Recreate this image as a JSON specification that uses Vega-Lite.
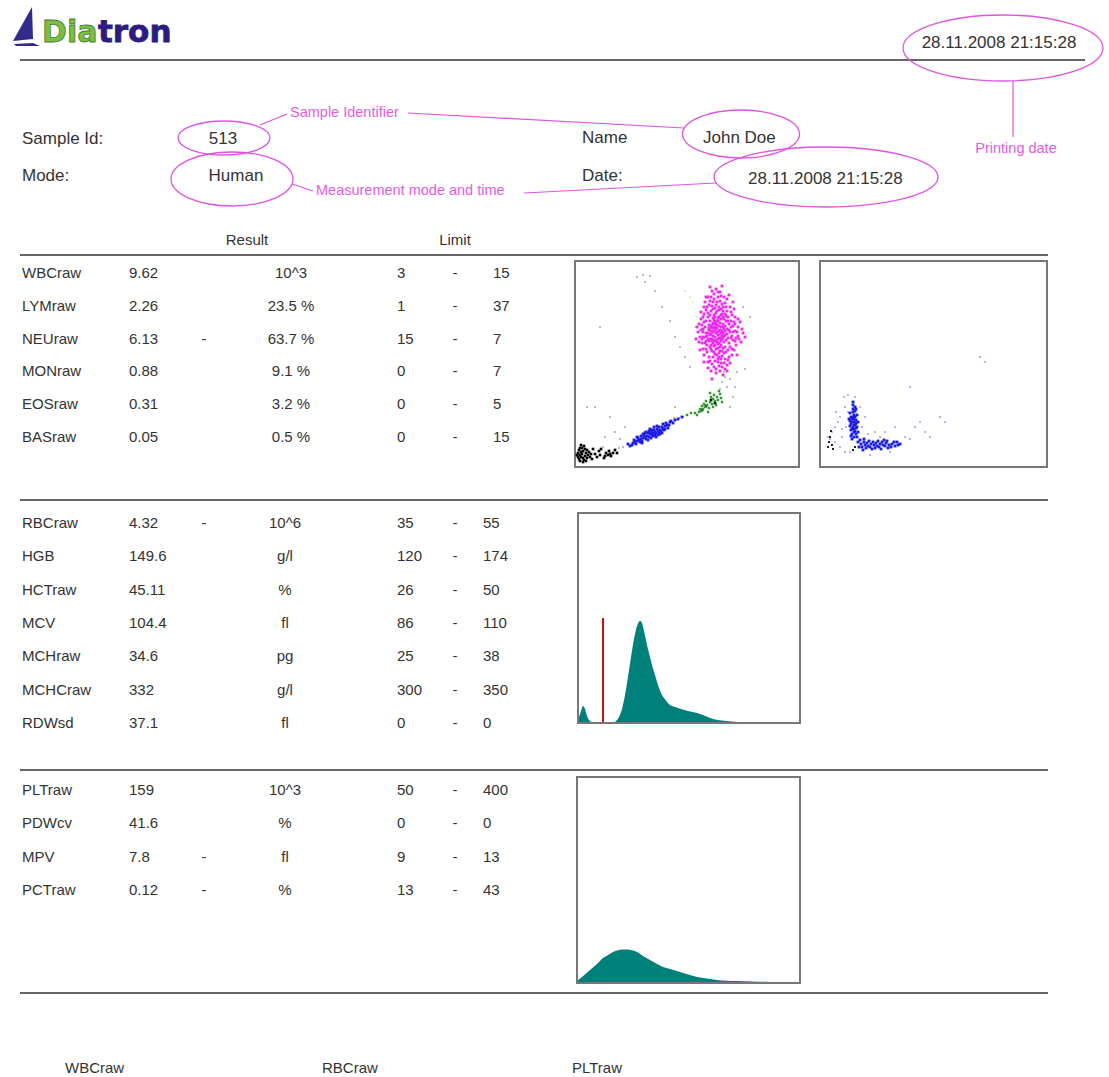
{
  "$schema": "https://vega.github.io/schema/vega-lite/v6.json",
  "width": 1109,
  "height": 1077,
  "padding": 0,
  "autosize": {"type": "fit", "contains": "padding"},
  "background": "white",
  "config": {
    "view": {"stroke": null},
    "axis": {"disable": true},
    "legend": {"disable": true},
    "text": {"font": "Liberation Sans", "fontSize": 15, "color": "#333333", "baseline": "middle"}
  },
  "datasets": {
    "report": [{"sampleId": "513", "mode": "Human", "name": "John Doe", "date": "28.11.2008 21:15:28", "printed": "28.11.2008 21:15:28"}],
    "table": [
      {"line": 1, "param": "WBCraw", "value": "9.62", "flag": "", "unit": "10^3", "low": "3", "high": "15"},
      {"line": 2, "param": "LYMraw", "value": "2.26", "flag": "", "unit": "23.5 %", "low": "1", "high": "37"},
      {"line": 3, "param": "NEUraw", "value": "6.13", "flag": "-", "unit": "63.7 %", "low": "15", "high": "7"},
      {"line": 4, "param": "MONraw", "value": "0.88", "flag": "", "unit": "9.1 %", "low": "0", "high": "7"},
      {"line": 5, "param": "EOSraw", "value": "0.31", "flag": "", "unit": "3.2 %", "low": "0", "high": "5"},
      {"line": 6, "param": "BASraw", "value": "0.05", "flag": "", "unit": "0.5 %", "low": "0", "high": "15"},
      {"line": 7, "param": "RBCraw", "value": "4.32", "flag": "-", "unit": "10^6", "low": "35", "high": "55"},
      {"line": 8, "param": "HGB", "value": "149.6", "flag": "", "unit": "g/l", "low": "120", "high": "174"},
      {"line": 9, "param": "HCTraw", "value": "45.11", "flag": "", "unit": "%", "low": "26", "high": "50"},
      {"line": 10, "param": "MCV", "value": "104.4", "flag": "", "unit": "fl", "low": "86", "high": "110"},
      {"line": 11, "param": "MCHraw", "value": "34.6", "flag": "", "unit": "pg", "low": "25", "high": "38"},
      {"line": 12, "param": "MCHCraw", "value": "332", "flag": "", "unit": "g/l", "low": "300", "high": "350"},
      {"line": 13, "param": "RDWsd", "value": "37.1", "flag": "", "unit": "fl", "low": "0", "high": "0"},
      {"line": 14, "param": "PLTraw", "value": "159", "flag": "", "unit": "10^3", "low": "50", "high": "400"},
      {"line": 15, "param": "PDWcv", "value": "41.6", "flag": "", "unit": "%", "low": "0", "high": "0"},
      {"line": 16, "param": "MPV", "value": "7.8", "flag": "-", "unit": "fl", "low": "9", "high": "13"},
      {"line": 17, "param": "PCTraw", "value": "0.12", "flag": "-", "unit": "%", "low": "13", "high": "43"}
    ],
    "wbc_neu": [
      {"x":140,"y":130},{"x":143,"y":128},{"x":145,"y":133},{"x":138,"y":135},{"x":141,"y":138},{"x":146,"y":140},{"x":137,"y":126},{"x":144,"y":124},{"x":148,"y":129},{"x":135,"y":132},
      {"x":142,"y":142},{"x":139,"y":121},{"x":147,"y":136},{"x":150,"y":132},{"x":136,"y":140},{"x":143,"y":146},{"x":133,"y":128},{"x":149,"y":125},{"x":141,"y":118},{"x":145,"y":120},
      {"x":138,"y":144},{"x":152,"y":138},{"x":134,"y":137},{"x":146,"y":148},{"x":140,"y":150},{"x":148,"y":143},{"x":131,"y":134},{"x":153,"y":129},{"x":137,"y":116},{"x":144,"y":114},
      {"x":150,"y":120},{"x":139,"y":152},{"x":147,"y":153},{"x":132,"y":122},{"x":155,"y":135},{"x":135,"y":146},{"x":142,"y":156},{"x":151,"y":146},{"x":130,"y":140},{"x":154,"y":124},
      {"x":144,"y":110},{"x":138,"y":110},{"x":149,"y":114},{"x":136,"y":156},{"x":146,"y":158},{"x":128,"y":130},{"x":157,"y":131},{"x":133,"y":150},{"x":153,"y":150},{"x":141,"y":162},
      {"x":148,"y":160},{"x":132,"y":115},{"x":156,"y":140},{"x":129,"y":145},{"x":143,"y":105},{"x":150,"y":108},{"x":135,"y":106},{"x":157,"y":118},{"x":127,"y":124},{"x":138,"y":165},
      {"x":145,"y":166},{"x":152,"y":156},{"x":126,"y":137},{"x":159,"y":145},{"x":131,"y":157},{"x":147,"y":100},{"x":139,"y":100},{"x":154,"y":110},{"x":129,"y":112},{"x":158,"y":127},
      {"x":134,"y":162},{"x":150,"y":164},{"x":143,"y":170},{"x":136,"y":170},{"x":155,"y":160},{"x":125,"y":130},{"x":160,"y":136},{"x":128,"y":150},{"x":146,"y":104},{"x":141,"y":94},
      {"x":152,"y":102},{"x":133,"y":99},{"x":161,"y":122},{"x":124,"y":143},{"x":157,"y":152},{"x":149,"y":170},{"x":139,"y":173},{"x":130,"y":165},{"x":163,"y":131},{"x":125,"y":117},
      {"x":137,"y":128},{"x":144,"y":136},{"x":140,"y":140},{"x":147,"y":131},{"x":142,"y":125},{"x":136,"y":133},{"x":145,"y":144},{"x":139,"y":147},{"x":149,"y":138},{"x":134,"y":142},
      {"x":143,"y":119},{"x":151,"y":127},{"x":138,"y":124},{"x":146,"y":126},{"x":141,"y":134},{"x":144,"y":129},{"x":148,"y":134},{"x":137,"y":139},{"x":142,"y":146},{"x":140,"y":113},
      {"x":154,"y":143},{"x":132,"y":131},{"x":147,"y":116},{"x":135,"y":120},{"x":150,"y":153},{"x":156,"y":146},{"x":133,"y":154},{"x":144,"y":160},{"x":128,"y":138},{"x":158,"y":135},
      {"x":131,"y":126},{"x":153,"y":117},{"x":146,"y":108},{"x":138,"y":158},{"x":152,"y":133},{"x":127,"y":128},{"x":161,"y":129},{"x":145,"y":175},{"x":136,"y":96},{"x":155,"y":104},
      {"x":123,"y":135},{"x":163,"y":140},{"x":129,"y":160},{"x":160,"y":150},{"x":150,"y":98},{"x":141,"y":178},{"x":126,"y":148},{"x":166,"y":125},{"x":133,"y":170},{"x":158,"y":165},
      {"x":121,"y":128},{"x":165,"y":145},{"x":148,"y":92},{"x":137,"y":88},{"x":154,"y":172},{"x":129,"y":105},{"x":168,"y":134},{"x":122,"y":140},{"x":162,"y":112},{"x":135,"y":180},
      {"x":147,"y":181},{"x":139,"y":143},{"x":143,"y":132},{"x":146,"y":122},{"x":140,"y":126},{"x":144,"y":150},{"x":136,"y":122},{"x":150,"y":141},{"x":134,"y":126},{"x":148,"y":150},
      {"x":139,"y":136},{"x":142,"y":139},{"x":145,"y":137},{"x":138,"y":131},{"x":141,"y":127},{"x":147,"y":128},{"x":144,"y":141},{"x":137,"y":142},{"x":140,"y":145},{"x":143,"y":149},
      {"x":146,"y":152},{"x":141,"y":154},{"x":138,"y":149},{"x":135,"y":152},{"x":149,"y":148},{"x":151,"y":151},{"x":153,"y":146},{"x":148,"y":156},{"x":144,"y":157},{"x":140,"y":159},
      {"x":137,"y":161},{"x":142,"y":165},{"x":147,"y":163},{"x":151,"y":160},{"x":139,"y":168},{"x":146,"y":171},{"x":135,"y":166},{"x":132,"y":160},{"x":136,"y":118},{"x":139,"y":115},
      {"x":142,"y":112},{"x":145,"y":116},{"x":148,"y":119},{"x":151,"y":115},{"x":147,"y":111},{"x":143,"y":108},{"x":140,"y":106},{"x":137,"y":103},{"x":144,"y":101},{"x":149,"y":104},
      {"x":153,"y":107},{"x":134,"y":110},{"x":131,"y":118},{"x":130,"y":124},{"x":133,"y":134},{"x":130,"y":130},{"x":128,"y":135},{"x":131,"y":146},{"x":129,"y":153},{"x":127,"y":142},
      {"x":154,"y":137},{"x":156,"y":129},{"x":155,"y":120},{"x":158,"y":141},{"x":156,"y":155},{"x":159,"y":158},{"x":160,"y":143},{"x":162,"y":135},{"x":160,"y":126},{"x":159,"y":117},
      {"x":157,"y":112},{"x":164,"y":128},{"x":163,"y":148},{"x":167,"y":138},{"x":170,"y":130},{"x":152,"y":168},{"x":143,"y":175},{"x":137,"y":176},{"x":131,"y":170},{"x":126,"y":155},
      {"x":124,"y":125},{"x":128,"y":118},{"x":133,"y":105},{"x":141,"y":98},{"x":145,"y":96},{"x":152,"y":96},{"x":140,"y":122},{"x":143,"y":123},{"x":138,"y":127},{"x":146,"y":134},
      {"x":149,"y":131},{"x":135,"y":128},{"x":139,"y":139},{"x":142,"y":135},{"x":145,"y":129},{"x":136,"y":136},{"x":148,"y":140},{"x":141,"y":143},{"x":150,"y":136},{"x":134,"y":139}
    ],
    "wbc_lym": [
      {"x":72,"y":31},{"x":75,"y":33},{"x":78,"y":34},{"x":80,"y":35},{"x":83,"y":36},{"x":70,"y":30},{"x":68,"y":29},{"x":66,"y":28},{"x":85,"y":37},{"x":88,"y":38},
      {"x":74,"y":30},{"x":77,"y":32},{"x":81,"y":34},{"x":79,"y":37},{"x":76,"y":35},{"x":73,"y":34},{"x":84,"y":34},{"x":87,"y":40},{"x":90,"y":41},{"x":64,"y":27},
      {"x":62,"y":26},{"x":60,"y":25},{"x":92,"y":42},{"x":71,"y":28},{"x":69,"y":32},{"x":82,"y":38},{"x":86,"y":36},{"x":67,"y":26},{"x":74,"y":36},{"x":78,"y":31},
      {"x":89,"y":37},{"x":63,"y":29},{"x":58,"y":24},{"x":93,"y":39},{"x":80,"y":32},{"x":76,"y":29},{"x":70,"y":34},{"x":84,"y":40},{"x":66,"y":31},{"x":91,"y":44},
      {"x":95,"y":45},{"x":57,"y":22},{"x":61,"y":23},{"x":87,"y":34},{"x":73,"y":27},{"x":79,"y":40},{"x":83,"y":32},{"x":65,"y":25},{"x":94,"y":42},{"x":68,"y":33},
      {"x":81,"y":30},{"x":75,"y":38},{"x":59,"y":27},{"x":88,"y":43},{"x":71,"y":35},{"x":85,"y":33},{"x":77,"y":37},{"x":96,"y":46},{"x":55,"y":21},{"x":62,"y":30},
      {"x":90,"y":38},{"x":67,"y":24},{"x":82,"y":41},{"x":98,"y":44},{"x":53,"y":23},{"x":100,"y":47},{"x":103,"y":48},{"x":107,"y":50}
    ],
    "wbc_mon": [
      {"x":135,"y":65},{"x":132,"y":62},{"x":138,"y":68},{"x":140,"y":66},{"x":130,"y":60},{"x":137,"y":63},{"x":142,"y":70},{"x":128,"y":58},{"x":134,"y":59},{"x":139,"y":72},
      {"x":143,"y":67},{"x":126,"y":56},{"x":131,"y":66},{"x":136,"y":70},{"x":145,"y":73},{"x":124,"y":55},{"x":129,"y":63},{"x":141,"y":62},{"x":133,"y":55},{"x":146,"y":69},
      {"x":122,"y":52},{"x":138,"y":60},{"x":127,"y":61},{"x":144,"y":76},{"x":120,"y":54},{"x":135,"y":74},{"x":147,"y":65},{"x":125,"y":58},{"x":112,"y":52},{"x":116,"y":54}
    ],
    "wbc_deb": [
      {"x":4,"y":8},{"x":6,"y":10},{"x":5,"y":12},{"x":8,"y":9},{"x":7,"y":13},{"x":10,"y":11},{"x":3,"y":14},{"x":9,"y":7},{"x":6,"y":15},{"x":11,"y":14},
      {"x":4,"y":17},{"x":8,"y":16},{"x":12,"y":9},{"x":5,"y":6},{"x":7,"y":19},{"x":13,"y":12},{"x":10,"y":18},{"x":3,"y":10},{"x":14,"y":15},{"x":9,"y":21},
      {"x":6,"y":22},{"x":15,"y":10},{"x":2,"y":12},{"x":11,"y":6},{"x":16,"y":13},{"x":5,"y":19},{"x":12,"y":17},{"x":8,"y":5},{"x":30,"y":11},{"x":33,"y":12},
      {"x":35,"y":13},{"x":31,"y":14},{"x":36,"y":11},{"x":38,"y":14},{"x":29,"y":9},{"x":34,"y":16},{"x":20,"y":13},{"x":24,"y":16},{"x":22,"y":10},{"x":26,"y":18},
      {"x":18,"y":18},{"x":40,"y":17},{"x":42,"y":14},{"x":25,"y":12},{"x":17,"y":8},{"x":136,"y":67},{"x":131,"y":61},{"x":140,"y":64},{"x":127,"y":57}
    ],
    "wbc_oth": [
      {"x":62,"y":190},{"x":68,"y":192},{"x":75,"y":191},{"x":80,"y":176},{"x":87,"y":160},{"x":95,"y":146},{"x":70,"y":185},{"x":100,"y":130},{"x":105,"y":120},{"x":110,"y":110},
      {"x":162,"y":95},{"x":170,"y":98},{"x":115,"y":100},{"x":20,"y":60},{"x":35,"y":50},{"x":50,"y":40},{"x":45,"y":28},{"x":40,"y":35},{"x":160,"y":80},{"x":158,"y":70},
      {"x":100,"y":60},{"x":12,"y":60},{"x":175,"y":150},{"x":25,"y":140},{"x":168,"y":160},{"x":30,"y":30},{"x":155,"y":60},{"x":104,"y":49},{"x":108,"y":50},{"x":99,"y":49},
      {"x":150,"y":90},{"x":147,"y":85},{"x":152,"y":80},{"x":145,"y":78},{"x":155,"y":88},{"x":149,"y":95},{"x":44,"y":19},{"x":48,"y":20},{"x":28,"y":20}
    ],
    "wbc_ylw": [
      {"x":122,"y":150},{"x":125,"y":155},{"x":120,"y":140},{"x":128,"y":160},{"x":118,"y":165},{"x":124,"y":145},{"x":115,"y":170},{"x":110,"y":176}
    ],
    "baso_lym": [
      {"x":33,"y":40},{"x":34,"y":45},{"x":32,"y":38},{"x":35,"y":50},{"x":31,"y":43},{"x":36,"y":47},{"x":33,"y":55},{"x":34,"y":35},{"x":32,"y":48},{"x":35,"y":42},
      {"x":30,"y":46},{"x":37,"y":52},{"x":33,"y":58},{"x":31,"y":37},{"x":36,"y":39},{"x":34,"y":52},{"x":32,"y":33},{"x":35,"y":56},{"x":30,"y":41},{"x":38,"y":45},
      {"x":33,"y":62},{"x":31,"y":50},{"x":36,"y":33},{"x":34,"y":30},{"x":37,"y":40},{"x":29,"y":48},{"x":35,"y":60},{"x":32,"y":28},{"x":38,"y":35},{"x":30,"y":54},
      {"x":36,"y":58},{"x":33,"y":65},{"x":34,"y":42},{"x":31,"y":31},{"x":37,"y":30},{"x":35,"y":36},{"x":32,"y":45},{"x":34,"y":48},{"x":36,"y":44},{"x":33,"y":50},
      {"x":45,"y":22},{"x":48,"y":21},{"x":51,"y":23},{"x":54,"y":22},{"x":57,"y":21},{"x":60,"y":23},{"x":63,"y":22},{"x":66,"y":24},{"x":69,"y":22},{"x":72,"y":23},
      {"x":75,"y":21},{"x":44,"y":25},{"x":47,"y":24},{"x":50,"y":20},{"x":53,"y":25},{"x":56,"y":24},{"x":59,"y":20},{"x":62,"y":25},{"x":65,"y":21},{"x":68,"y":19},
      {"x":42,"y":20},{"x":46,"y":19},{"x":49,"y":26},{"x":52,"y":18},{"x":55,"y":19},{"x":58,"y":26},{"x":61,"y":18},{"x":64,"y":27},{"x":71,"y":20},{"x":74,"y":25},
      {"x":78,"y":22},{"x":41,"y":23},{"x":40,"y":27},{"x":44,"y":28},{"x":38,"y":25},{"x":39,"y":20},{"x":43,"y":17},{"x":67,"y":26},{"x":77,"y":25},{"x":80,"y":23}
    ],
    "baso_light": [
      {"x":15,"y":40},{"x":20,"y":50},{"x":12,"y":35},{"x":25,"y":60},{"x":22,"y":30},{"x":18,"y":45},{"x":10,"y":28},{"x":24,"y":70},{"x":28,"y":72},{"x":40,"y":60},
      {"x":45,"y":50},{"x":55,"y":35},{"x":65,"y":35},{"x":85,"y":30},{"x":90,"y":28},{"x":95,"y":40},{"x":100,"y":45},{"x":20,"y":20},{"x":15,"y":25},{"x":25,"y":15},
      {"x":30,"y":15},{"x":50,"y":12},{"x":70,"y":15},{"x":28,"y":55},{"x":42,"y":40},{"x":48,"y":33},{"x":60,"y":30},{"x":75,"y":40},{"x":105,"y":35},{"x":110,"y":30},
      {"x":26,"y":40},{"x":16,"y":55},{"x":8,"y":30},{"x":22,"y":38},{"x":35,"y":70},{"x":120,"y":50},{"x":125,"y":45},{"x":160,"y":110},{"x":165,"y":105},{"x":90,"y":80}
    ],
    "baso_deb": [
      {"x":9,"y":25},{"x":10,"y":30},{"x":12,"y":22},{"x":11,"y":36},{"x":13,"y":18},{"x":8,"y":20},{"x":35,"y":20},{"x":33,"y":17},{"x":34,"y":38},{"x":36,"y":43}
    ],
    "rbc": [
      {"ch":0,"n":2},{"ch":3,"n":12},{"ch":5,"n":17},{"ch":7,"n":14},{"ch":9,"n":7},{"ch":12,"n":2},{"ch":15,"n":0.5},{"ch":20,"n":0},{"ch":35,"n":0},{"ch":38,"n":2},
      {"ch":41,"n":6},{"ch":44,"n":14},{"ch":47,"n":28},{"ch":50,"n":46},{"ch":53,"n":66},{"ch":56,"n":84},{"ch":59,"n":97},{"ch":62,"n":102},{"ch":64,"n":100},{"ch":66,"n":92},
      {"ch":69,"n":78},{"ch":72,"n":66},{"ch":74,"n":58},{"ch":77,"n":48},{"ch":80,"n":38},{"ch":83,"n":30},{"ch":86,"n":25},{"ch":89,"n":21},{"ch":92,"n":18},{"ch":97,"n":16},
      {"ch":103,"n":14},{"ch":110,"n":12},{"ch":119,"n":10},{"ch":125,"n":8},{"ch":132,"n":5},{"ch":140,"n":3},{"ch":148,"n":2},{"ch":160,"n":1},{"ch":180,"n":0.6},{"ch":200,"n":0.4},{"ch":222,"n":0}
    ],
    "plt": [
      {"ch":0,"n":2},{"ch":5,"n":6},{"ch":13,"n":13},{"ch":20,"n":19},{"ch":26,"n":25},{"ch":31,"n":28},{"ch":36,"n":31},{"ch":42,"n":33},{"ch":48,"n":33.5},{"ch":54,"n":33},
      {"ch":60,"n":31},{"ch":66,"n":27},{"ch":73,"n":23},{"ch":80,"n":19},{"ch":86,"n":16},{"ch":93,"n":14},{"ch":100,"n":12},{"ch":106,"n":10},{"ch":113,"n":8},{"ch":120,"n":6},
      {"ch":126,"n":5},{"ch":133,"n":4},{"ch":140,"n":3},{"ch":150,"n":2.3},{"ch":160,"n":2},{"ch":175,"n":1.5},{"ch":193,"n":1},{"ch":210,"n":0.7},{"ch":223,"n":0.5}
    ]
  },
  "layer": [
    {
      "data": {"name": "report"},
      "layer": [
        {"mark": {"type": "point", "shape": "M0.4,-1L0.45,0.6L-0.55,0.7Z M-0.5,0.85L0.45,0.8L0.8,0.95L-0.4,0.95Z", "size": 1600, "filled": true, "color": "#332a8e", "opacity": 1},
         "encoding": {"x": {"datum": 24, "type": "quantitative", "scale": {"domain": [0, 1109], "range": [0, 1109], "nice": false, "zero": false}},
                      "y": {"datum": 27, "type": "quantitative", "scale": {"domain": [0, 1077], "range": [0, 1077], "nice": false, "zero": false}}}},
        {"mark": {"type": "text", "text": "Dia", "font": "DejaVu Sans", "fontWeight": "bold", "fontSize": 30, "align": "left", "color": "#7cbd45", "stroke": "#3f7d2b", "strokeWidth": 0.8},
         "encoding": {"x": {"datum": 42, "type": "quantitative"}, "y": {"datum": 33, "type": "quantitative"}}},
        {"mark": {"type": "text", "text": "tron", "font": "DejaVu Sans", "fontWeight": "bold", "fontSize": 31, "align": "left", "color": "#2c1c80", "stroke": "#2c1c80", "strokeWidth": 0.8},
         "encoding": {"x": {"datum": 98, "type": "quantitative"}, "y": {"datum": 33, "type": "quantitative"}}},
        {"mark": {"type": "text", "align": "center", "fontSize": 17},
         "encoding": {"x": {"datum": 999, "type": "quantitative"}, "y": {"datum": 43, "type": "quantitative"}, "text": {"field": "printed"}}},
        {"mark": {"type": "rule", "color": "#333333", "strokeWidth": 1.5},
         "encoding": {"x": {"datum": 20, "type": "quantitative"}, "x2": {"datum": 1085}, "y": {"datum": 60, "type": "quantitative"}}},
        {"mark": {"type": "rule", "color": "#333333", "strokeWidth": 1.5},
         "encoding": {"x": {"datum": 20, "type": "quantitative"}, "x2": {"datum": 1048}, "y": {"datum": 255, "type": "quantitative"}}},
        {"mark": {"type": "rule", "color": "#333333", "strokeWidth": 1.5},
         "encoding": {"x": {"datum": 20, "type": "quantitative"}, "x2": {"datum": 1048}, "y": {"datum": 500, "type": "quantitative"}}},
        {"mark": {"type": "rule", "color": "#333333", "strokeWidth": 1.5},
         "encoding": {"x": {"datum": 20, "type": "quantitative"}, "x2": {"datum": 1048}, "y": {"datum": 770, "type": "quantitative"}}},
        {"mark": {"type": "rule", "color": "#333333", "strokeWidth": 1.5},
         "encoding": {"x": {"datum": 20, "type": "quantitative"}, "x2": {"datum": 1048}, "y": {"datum": 993, "type": "quantitative"}}},
        {"mark": {"type": "text", "align": "left", "text": "Sample Id:", "fontSize": 17},
         "encoding": {"x": {"datum": 22, "type": "quantitative"}, "y": {"datum": 139, "type": "quantitative"}}},
        {"mark": {"type": "text", "align": "left", "text": "Mode:", "fontSize": 17},
         "encoding": {"x": {"datum": 22, "type": "quantitative"}, "y": {"datum": 176, "type": "quantitative"}}},
        {"mark": {"type": "text", "align": "center", "fontSize": 17},
         "encoding": {"x": {"datum": 223, "type": "quantitative"}, "y": {"datum": 139, "type": "quantitative"}, "text": {"field": "sampleId"}}},
        {"mark": {"type": "text", "align": "center", "fontSize": 17},
         "encoding": {"x": {"datum": 236, "type": "quantitative"}, "y": {"datum": 176, "type": "quantitative"}, "text": {"field": "mode"}}},
        {"mark": {"type": "text", "align": "left", "text": "Name", "fontSize": 17},
         "encoding": {"x": {"datum": 582, "type": "quantitative"}, "y": {"datum": 138, "type": "quantitative"}}},
        {"mark": {"type": "text", "align": "left", "text": "Date:", "fontSize": 17},
         "encoding": {"x": {"datum": 582, "type": "quantitative"}, "y": {"datum": 176, "type": "quantitative"}}},
        {"mark": {"type": "text", "align": "left", "fontSize": 17},
         "encoding": {"x": {"datum": 703, "type": "quantitative"}, "y": {"datum": 138, "type": "quantitative"}, "text": {"field": "name"}}},
        {"mark": {"type": "text", "align": "left", "fontSize": 17},
         "encoding": {"x": {"datum": 748, "type": "quantitative"}, "y": {"datum": 179, "type": "quantitative"}, "text": {"field": "date"}}},
        {"mark": {"type": "point", "filled": false, "opacity": 1, "stroke": "#dd55dd", "strokeWidth": 1.3, "size": 8464,
                  "shape": "M-1,0C-1,-0.2043,-0.5523,-0.37,0,-0.37C0.5523,-0.37,1,-0.2043,1,0C1,0.2043,0.5523,0.37,0,0.37C-0.5523,0.37,-1,0.2043,-1,0Z"},
         "encoding": {"x": {"datum": 224, "type": "quantitative"}, "y": {"datum": 138, "type": "quantitative"}}},
        {"mark": {"type": "point", "filled": false, "opacity": 1, "stroke": "#dd55dd", "strokeWidth": 1.3, "size": 14884,
                  "shape": "M-1,0C-1,-0.2445,-0.5523,-0.443,0,-0.443C0.5523,-0.443,1,-0.2445,1,0C1,0.2445,0.5523,0.443,0,0.443C-0.5523,0.443,-1,0.2445,-1,0Z"},
         "encoding": {"x": {"datum": 232, "type": "quantitative"}, "y": {"datum": 179, "type": "quantitative"}}},
        {"mark": {"type": "point", "filled": false, "opacity": 1, "stroke": "#dd55dd", "strokeWidth": 1.3, "size": 13689,
                  "shape": "M-1,0C-1,-0.2264,-0.5523,-0.41,0,-0.41C0.5523,-0.41,1,-0.2264,1,0C1,0.2264,0.5523,0.41,0,0.41C-0.5523,0.41,-1,0.2264,-1,0Z"},
         "encoding": {"x": {"datum": 741, "type": "quantitative"}, "y": {"datum": 134, "type": "quantitative"}}},
        {"mark": {"type": "point", "filled": false, "opacity": 1, "stroke": "#dd55dd", "strokeWidth": 1.3, "size": 50176,
                  "shape": "M-1,0C-1,-0.148,-0.5523,-0.268,0,-0.268C0.5523,-0.268,1,-0.148,1,0C1,0.148,0.5523,0.268,0,0.268C-0.5523,0.268,-1,0.148,-1,0Z"},
         "encoding": {"x": {"datum": 826, "type": "quantitative"}, "y": {"datum": 177, "type": "quantitative"}}},
        {"mark": {"type": "point", "filled": false, "opacity": 1, "stroke": "#dd55dd", "strokeWidth": 1.3, "size": 40000,
                  "shape": "M-1,0C-1,-0.1823,-0.5523,-0.33,0,-0.33C0.5523,-0.33,1,-0.1823,1,0C1,0.1823,0.5523,0.33,0,0.33C-0.5523,0.33,-1,0.1823,-1,0Z"},
         "encoding": {"x": {"datum": 1003, "type": "quantitative"}, "y": {"datum": 48, "type": "quantitative"}}},
        {"mark": {"type": "text", "align": "left", "text": "Sample Identifier", "fontSize": 14.5, "color": "#e35ce3"},
         "encoding": {"x": {"datum": 290, "type": "quantitative"}, "y": {"datum": 113, "type": "quantitative"}}},
        {"mark": {"type": "text", "align": "left", "text": "Measurement mode and time", "fontSize": 14.5, "color": "#e35ce3"},
         "encoding": {"x": {"datum": 316, "type": "quantitative"}, "y": {"datum": 191, "type": "quantitative"}}},
        {"mark": {"type": "text", "align": "center", "text": "Printing date", "fontSize": 14.5, "color": "#e35ce3"},
         "encoding": {"x": {"datum": 1016, "type": "quantitative"}, "y": {"datum": 149, "type": "quantitative"}}},
        {"mark": {"type": "rule", "color": "#dd55dd", "strokeWidth": 1.2},
         "encoding": {"x": {"datum": 260, "type": "quantitative"}, "x2": {"datum": 287}, "y": {"datum": 125, "type": "quantitative"}, "y2": {"datum": 114}}},
        {"mark": {"type": "rule", "color": "#dd55dd", "strokeWidth": 1.2},
         "encoding": {"x": {"datum": 408, "type": "quantitative"}, "x2": {"datum": 684}, "y": {"datum": 113, "type": "quantitative"}, "y2": {"datum": 128}}},
        {"mark": {"type": "rule", "color": "#dd55dd", "strokeWidth": 1.2},
         "encoding": {"x": {"datum": 292, "type": "quantitative"}, "x2": {"datum": 313}, "y": {"datum": 184, "type": "quantitative"}, "y2": {"datum": 191}}},
        {"mark": {"type": "rule", "color": "#dd55dd", "strokeWidth": 1.2},
         "encoding": {"x": {"datum": 524, "type": "quantitative"}, "x2": {"datum": 716}, "y": {"datum": 193, "type": "quantitative"}, "y2": {"datum": 183}}},
        {"mark": {"type": "rule", "color": "#dd55dd", "strokeWidth": 1.2},
         "encoding": {"x": {"datum": 1013, "type": "quantitative"}, "y": {"datum": 81, "type": "quantitative"}, "y2": {"datum": 137}}},
        {"mark": {"type": "text", "align": "left", "text": "WBCraw"},
         "encoding": {"x": {"datum": 65, "type": "quantitative"}, "y": {"datum": 1068, "type": "quantitative"}}},
        {"mark": {"type": "text", "align": "left", "text": "RBCraw"},
         "encoding": {"x": {"datum": 322, "type": "quantitative"}, "y": {"datum": 1068, "type": "quantitative"}}},
        {"mark": {"type": "text", "align": "left", "text": "PLTraw"},
         "encoding": {"x": {"datum": 572, "type": "quantitative"}, "y": {"datum": 1068, "type": "quantitative"}}}
      ]
    },
    {
      "data": {"name": "table"},
      "layer": [
        {"mark": {"type": "text", "align": "left"},
         "encoding": {"x": {"datum": 0, "type": "quantitative", "scale": {"domain": [0, 1, 2, 2.5, 3, 3.5, 4, 5, 6, 7], "range": [22, 129, 204, 247, 291, 285, 397, 455, 493, 483], "nice": false, "zero": false}},
                      "y": {"field": "line", "type": "quantitative", "scale": {"domain": [1, 6, 7, 13, 14, 17], "range": [273, 437, 523, 723, 790, 890], "nice": false, "zero": false}},
                      "text": {"field": "param"}}},
        {"mark": {"type": "text", "align": "left"},
         "encoding": {"x": {"datum": 1, "type": "quantitative"}, "y": {"field": "line", "type": "quantitative"}, "text": {"field": "value"}}},
        {"mark": {"type": "text", "align": "center"},
         "encoding": {"x": {"datum": 2, "type": "quantitative"}, "y": {"field": "line", "type": "quantitative"}, "text": {"field": "flag"}}},
        {"transform": [{"filter": "datum.line <= 6"}],
         "mark": {"type": "text", "align": "center"},
         "encoding": {"x": {"datum": 3, "type": "quantitative"}, "y": {"field": "line", "type": "quantitative"}, "text": {"field": "unit"}}},
        {"transform": [{"filter": "datum.line > 6"}],
         "mark": {"type": "text", "align": "center"},
         "encoding": {"x": {"datum": 3.5, "type": "quantitative"}, "y": {"field": "line", "type": "quantitative"}, "text": {"field": "unit"}}},
        {"mark": {"type": "text", "align": "left"},
         "encoding": {"x": {"datum": 4, "type": "quantitative"}, "y": {"field": "line", "type": "quantitative"}, "text": {"field": "low"}}},
        {"mark": {"type": "text", "align": "center", "text": "-"},
         "encoding": {"x": {"datum": 5, "type": "quantitative"}, "y": {"field": "line", "type": "quantitative"}}},
        {"transform": [{"filter": "datum.line <= 6"}],
         "mark": {"type": "text", "align": "left"},
         "encoding": {"x": {"datum": 6, "type": "quantitative"}, "y": {"field": "line", "type": "quantitative"}, "text": {"field": "high"}}},
        {"transform": [{"filter": "datum.line > 6"}],
         "mark": {"type": "text", "align": "left"},
         "encoding": {"x": {"datum": 7, "type": "quantitative"}, "y": {"field": "line", "type": "quantitative"}, "text": {"field": "high"}}},
        {"data": {"values": [{"heading": "Result"}]},
         "mark": {"type": "text", "align": "center"},
         "encoding": {"x": {"datum": 2.5, "type": "quantitative"}, "y": {"datum": 0, "type": "quantitative"}, "text": {"field": "heading"}}},
        {"data": {"values": [{"heading": "Limit"}]},
         "mark": {"type": "text", "align": "center"},
         "encoding": {"x": {"datum": 5, "type": "quantitative"}, "y": {"datum": 0, "type": "quantitative"}, "text": {"field": "heading"}}}
      ]
    },
    {
      "layer": [
        {"data": {"values": [{}]},
         "mark": {"type": "rect", "filled": false, "stroke": "#777777", "strokeWidth": 2},
         "encoding": {"x": {"datum": 0, "type": "quantitative", "scale": {"domain": [0, 224], "range": [575, 799], "nice": false, "zero": false}}, "x2": {"datum": 224},
                      "y": {"datum": 0, "type": "quantitative", "scale": {"domain": [0, 206], "range": [467, 261], "nice": false, "zero": false}}, "y2": {"datum": 206}}},
        {"data": {"name": "wbc_oth"}, "mark": {"type": "square", "size": 3, "color": "#9a9a9a", "opacity": 1},
         "encoding": {"x": {"field": "x", "type": "quantitative"}, "y": {"field": "y", "type": "quantitative"}}},
        {"data": {"name": "wbc_ylw"}, "mark": {"type": "square", "size": 3, "color": "#e6dc96", "opacity": 1},
         "encoding": {"x": {"field": "x", "type": "quantitative"}, "y": {"field": "y", "type": "quantitative"}}},
        {"data": {"name": "wbc_deb"}, "mark": {"type": "square", "size": 7, "color": "#000000", "opacity": 1},
         "encoding": {"x": {"field": "x", "type": "quantitative"}, "y": {"field": "y", "type": "quantitative"}}},
        {"data": {"name": "wbc_lym"}, "mark": {"type": "square", "size": 8, "color": "#1a1ae6", "opacity": 1},
         "encoding": {"x": {"field": "x", "type": "quantitative"}, "y": {"field": "y", "type": "quantitative"}}},
        {"data": {"name": "wbc_mon"}, "mark": {"type": "square", "size": 6, "color": "#2e9a2e", "opacity": 1},
         "encoding": {"x": {"field": "x", "type": "quantitative"}, "y": {"field": "y", "type": "quantitative"}}},
        {"data": {"name": "wbc_neu"}, "mark": {"type": "square", "size": 8, "color": "#ec2aec", "opacity": 1},
         "encoding": {"x": {"field": "x", "type": "quantitative"}, "y": {"field": "y", "type": "quantitative"}}}
      ]
    },
    {
      "layer": [
        {"data": {"values": [{}]},
         "mark": {"type": "rect", "filled": false, "stroke": "#777777", "strokeWidth": 2},
         "encoding": {"x": {"datum": 0, "type": "quantitative", "scale": {"domain": [0, 227], "range": [820, 1047], "nice": false, "zero": false}}, "x2": {"datum": 227},
                      "y": {"datum": 0, "type": "quantitative", "scale": {"domain": [0, 206], "range": [467, 261], "nice": false, "zero": false}}, "y2": {"datum": 206}}},
        {"data": {"name": "baso_light"}, "mark": {"type": "square", "size": 3, "color": "#8c8cf0", "opacity": 1},
         "encoding": {"x": {"field": "x", "type": "quantitative"}, "y": {"field": "y", "type": "quantitative"}}},
        {"data": {"name": "baso_deb"}, "mark": {"type": "square", "size": 4, "color": "#222222", "opacity": 1},
         "encoding": {"x": {"field": "x", "type": "quantitative"}, "y": {"field": "y", "type": "quantitative"}}},
        {"data": {"name": "baso_lym"}, "mark": {"type": "square", "size": 8, "color": "#1a1ae6", "opacity": 1},
         "encoding": {"x": {"field": "x", "type": "quantitative"}, "y": {"field": "y", "type": "quantitative"}}}
      ]
    },
    {
      "layer": [
        {"data": {"name": "rbc"}, "mark": {"type": "area", "color": "#00807a", "interpolate": "monotone", "opacity": 1},
         "encoding": {"x": {"field": "ch", "type": "quantitative", "scale": {"domain": [0, 222], "range": [578, 800], "nice": false, "zero": false}},
                      "y": {"field": "n", "type": "quantitative", "scale": {"domain": [0, 210], "range": [723, 513], "nice": false, "zero": false}}}},
        {"data": {"values": [{}]},
         "mark": {"type": "rule", "color": "#d01010", "strokeWidth": 2},
         "encoding": {"x": {"datum": 25, "type": "quantitative"}, "y": {"datum": 0, "type": "quantitative"}, "y2": {"datum": 105}}},
        {"data": {"values": [{}]},
         "mark": {"type": "rect", "filled": false, "stroke": "#777777", "strokeWidth": 2},
         "encoding": {"x": {"datum": 0, "type": "quantitative"}, "x2": {"datum": 222}, "y": {"datum": 0, "type": "quantitative"}, "y2": {"datum": 210}}}
      ]
    },
    {
      "layer": [
        {"data": {"name": "plt"}, "mark": {"type": "area", "color": "#00807a", "interpolate": "monotone", "opacity": 1},
         "encoding": {"x": {"field": "ch", "type": "quantitative", "scale": {"domain": [0, 223], "range": [577, 800], "nice": false, "zero": false}},
                      "y": {"field": "n", "type": "quantitative", "scale": {"domain": [0, 206], "range": [983, 777], "nice": false, "zero": false}}}},
        {"data": {"values": [{}]},
         "mark": {"type": "rect", "filled": false, "stroke": "#777777", "strokeWidth": 2},
         "encoding": {"x": {"datum": 0, "type": "quantitative"}, "x2": {"datum": 223}, "y": {"datum": 0, "type": "quantitative"}, "y2": {"datum": 206}}}
      ]
    }
  ],
  "resolve": {"scale": {"x": "independent", "y": "independent"}}
}
